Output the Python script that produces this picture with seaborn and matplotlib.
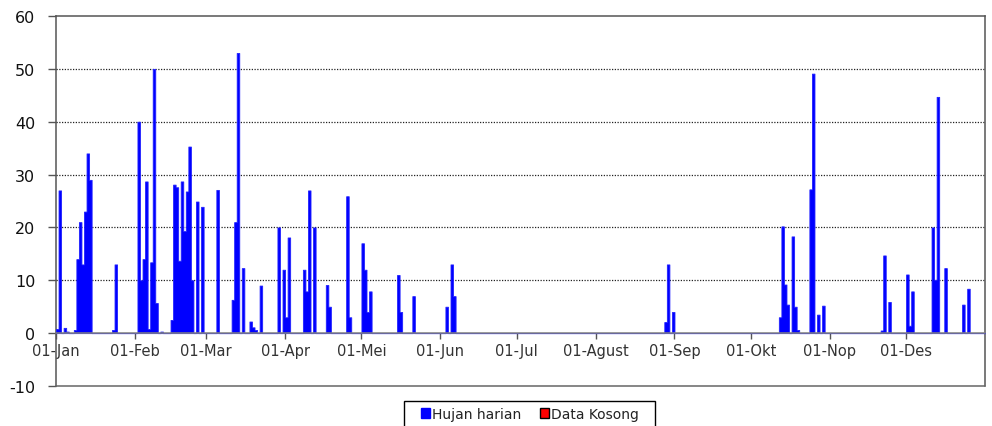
import matplotlib
matplotlib.use("Agg")
import matplotlib.pyplot as plt
from matplotlib.patches import Patch, Rectangle
import seaborn as sns

# Day of year (0 = 01-Jan) and daily rainfall (mm)
hari = [0, 1, 3, 4, 7, 8, 9, 10, 11, 12, 13, 22, 23,
        32, 33, 34, 35, 36, 37, 38, 39, 41, 45, 46, 47, 48, 49, 50, 51, 52, 53, 55, 57,
        63, 69, 70, 71, 73, 76, 77, 78, 80,
        87, 89, 90, 91, 97, 98, 99, 101,
        106, 107, 114, 115, 120, 121, 122, 123, 134, 135, 140,
        153, 155, 156,
        239, 240, 242,
        284, 285, 286, 287, 289, 290, 291, 296, 297, 299, 301,
        324, 325, 327, 334, 335, 336, 344, 345, 346, 349, 356, 358]
hujan = [0.8, 27, 1, 0.3, 0.6, 14, 21, 13, 23, 34, 29, 0.6, 13,
         40, 10, 14, 28.7, 0.8, 13.4, 50, 5.7, 0.3, 2.5, 28.1, 27.6, 13.7, 28.7, 19.3, 26.8, 35.3, 10, 24.9, 23.9,
         27.1, 6.3, 21, 53, 12.3, 2.2, 1.1, 0.6, 9,
         20, 12, 3, 18.1, 12, 7.9, 27, 20,
         9.1, 5, 25.9, 3, 17, 12, 4, 7.9, 11, 4, 7,
         5, 13, 7,
         2.1, 13, 4,
         3, 20.2, 9.2, 5.4, 18.3, 5, 0.6, 27.2, 49.1, 3.5, 5.2,
         0.5, 14.7, 5.9, 11.1, 1.4, 7.9, 20, 10.1, 44.7, 12.3, 5.4, 8.4]

# First day of each month
awal_bulan = [0, 31, 59, 90, 120, 151, 181, 212, 243, 273, 304, 334]
label_bulan = ["01-Jan", "01-Feb", "01-Mar", "01-Apr", "01-Mei", "01-Jun",
               "01-Jul", "01-Agust", "01-Sep", "01-Okt", "01-Nop", "01-Des"]
y_ticks = [-10, 0, 10, 20, 30, 40, 50, 60]

sns.set_theme(style="white")
plt.rcParams["font.family"] = ["DejaVu Sans"]
plt.rcParams["axes.unicode_minus"] = False

fig = plt.figure(figsize=(9.92, 4.27), dpi=100)
ax = fig.add_axes([56 / 992, 1 - 387 / 427, (985 - 56) / 992, (387 - 17) / 427])

# one day per bin; the step outline fills neighbouring days as a solid block
sns.histplot(x=hari, weights=hujan, binwidth=1, binrange=(0, 365),
             element="step", fill=True, color="#0000ff", alpha=1,
             edgecolor="#2020ff", linewidth=0.6, ax=ax, zorder=3)

ax.set_xlim(0, 365)
ax.set_ylim(-10, 60)
ax.set_xlabel("")
ax.set_ylabel("")

# dotted horizontal grid
ax.set_yticks(y_ticks)
for v in y_ticks[2:-1]:
    ax.axhline(v, color="#222222", lw=0.9, ls=(0, (1, 1.2)), zorder=1)

# frame: the x axis sits at zero, a closing line at -10
for s in ["left", "right", "top"]:
    ax.spines[s].set_visible(True)
    ax.spines[s].set_color("#555555")
    ax.spines[s].set_linewidth(1.1)
ax.spines["bottom"].set_position(("data", 0))
ax.spines["bottom"].set_color("#808080")
ax.spines["bottom"].set_linewidth(1.1)
ax.spines["bottom"].set_zorder(4)
ax.axhline(-10, color="#666666", lw=1.1, clip_on=False, zorder=5)

ax.set_xticks(awal_bulan)
ax.set_xticklabels(label_bulan)
ax.tick_params(axis="x", bottom=True, length=4, width=1, color="#555555",
               pad=3, labelsize=10.5, labelcolor="#333333")
ax.tick_params(axis="y", left=True, length=6, width=1, color="#555555",
               pad=9, labelsize=11.5, labelcolor="#111111")

# legend box running off the bottom edge of the figure
fig.patches.append(Rectangle((404 / 992, -0.02), (655 - 404) / 992, (427 - 402) / 427 + 0.02,
                             transform=fig.transFigure, facecolor="white",
                             edgecolor="black", linewidth=1.0, zorder=0))
legend_handles = [
    Patch(facecolor="#0000ff", edgecolor="#0000ff", label="Hujan harian"),
    Patch(facecolor="#ff0000", edgecolor="black", label="Data Kosong"),
]
leg = fig.legend(handles=legend_handles, loc="center",
                 bbox_to_anchor=(530 / 992, 1 - 415 / 427), ncol=2,
                 fontsize=10, frameon=False,
                 handlelength=0.65, handleheight=0.65,
                 handletextpad=0.15, columnspacing=1.3, borderpad=0.2,
                 borderaxespad=0)
for t in leg.get_texts():
    t.set_color("#222222")

fig.savefig("out.png", dpi=100, facecolor="white")
